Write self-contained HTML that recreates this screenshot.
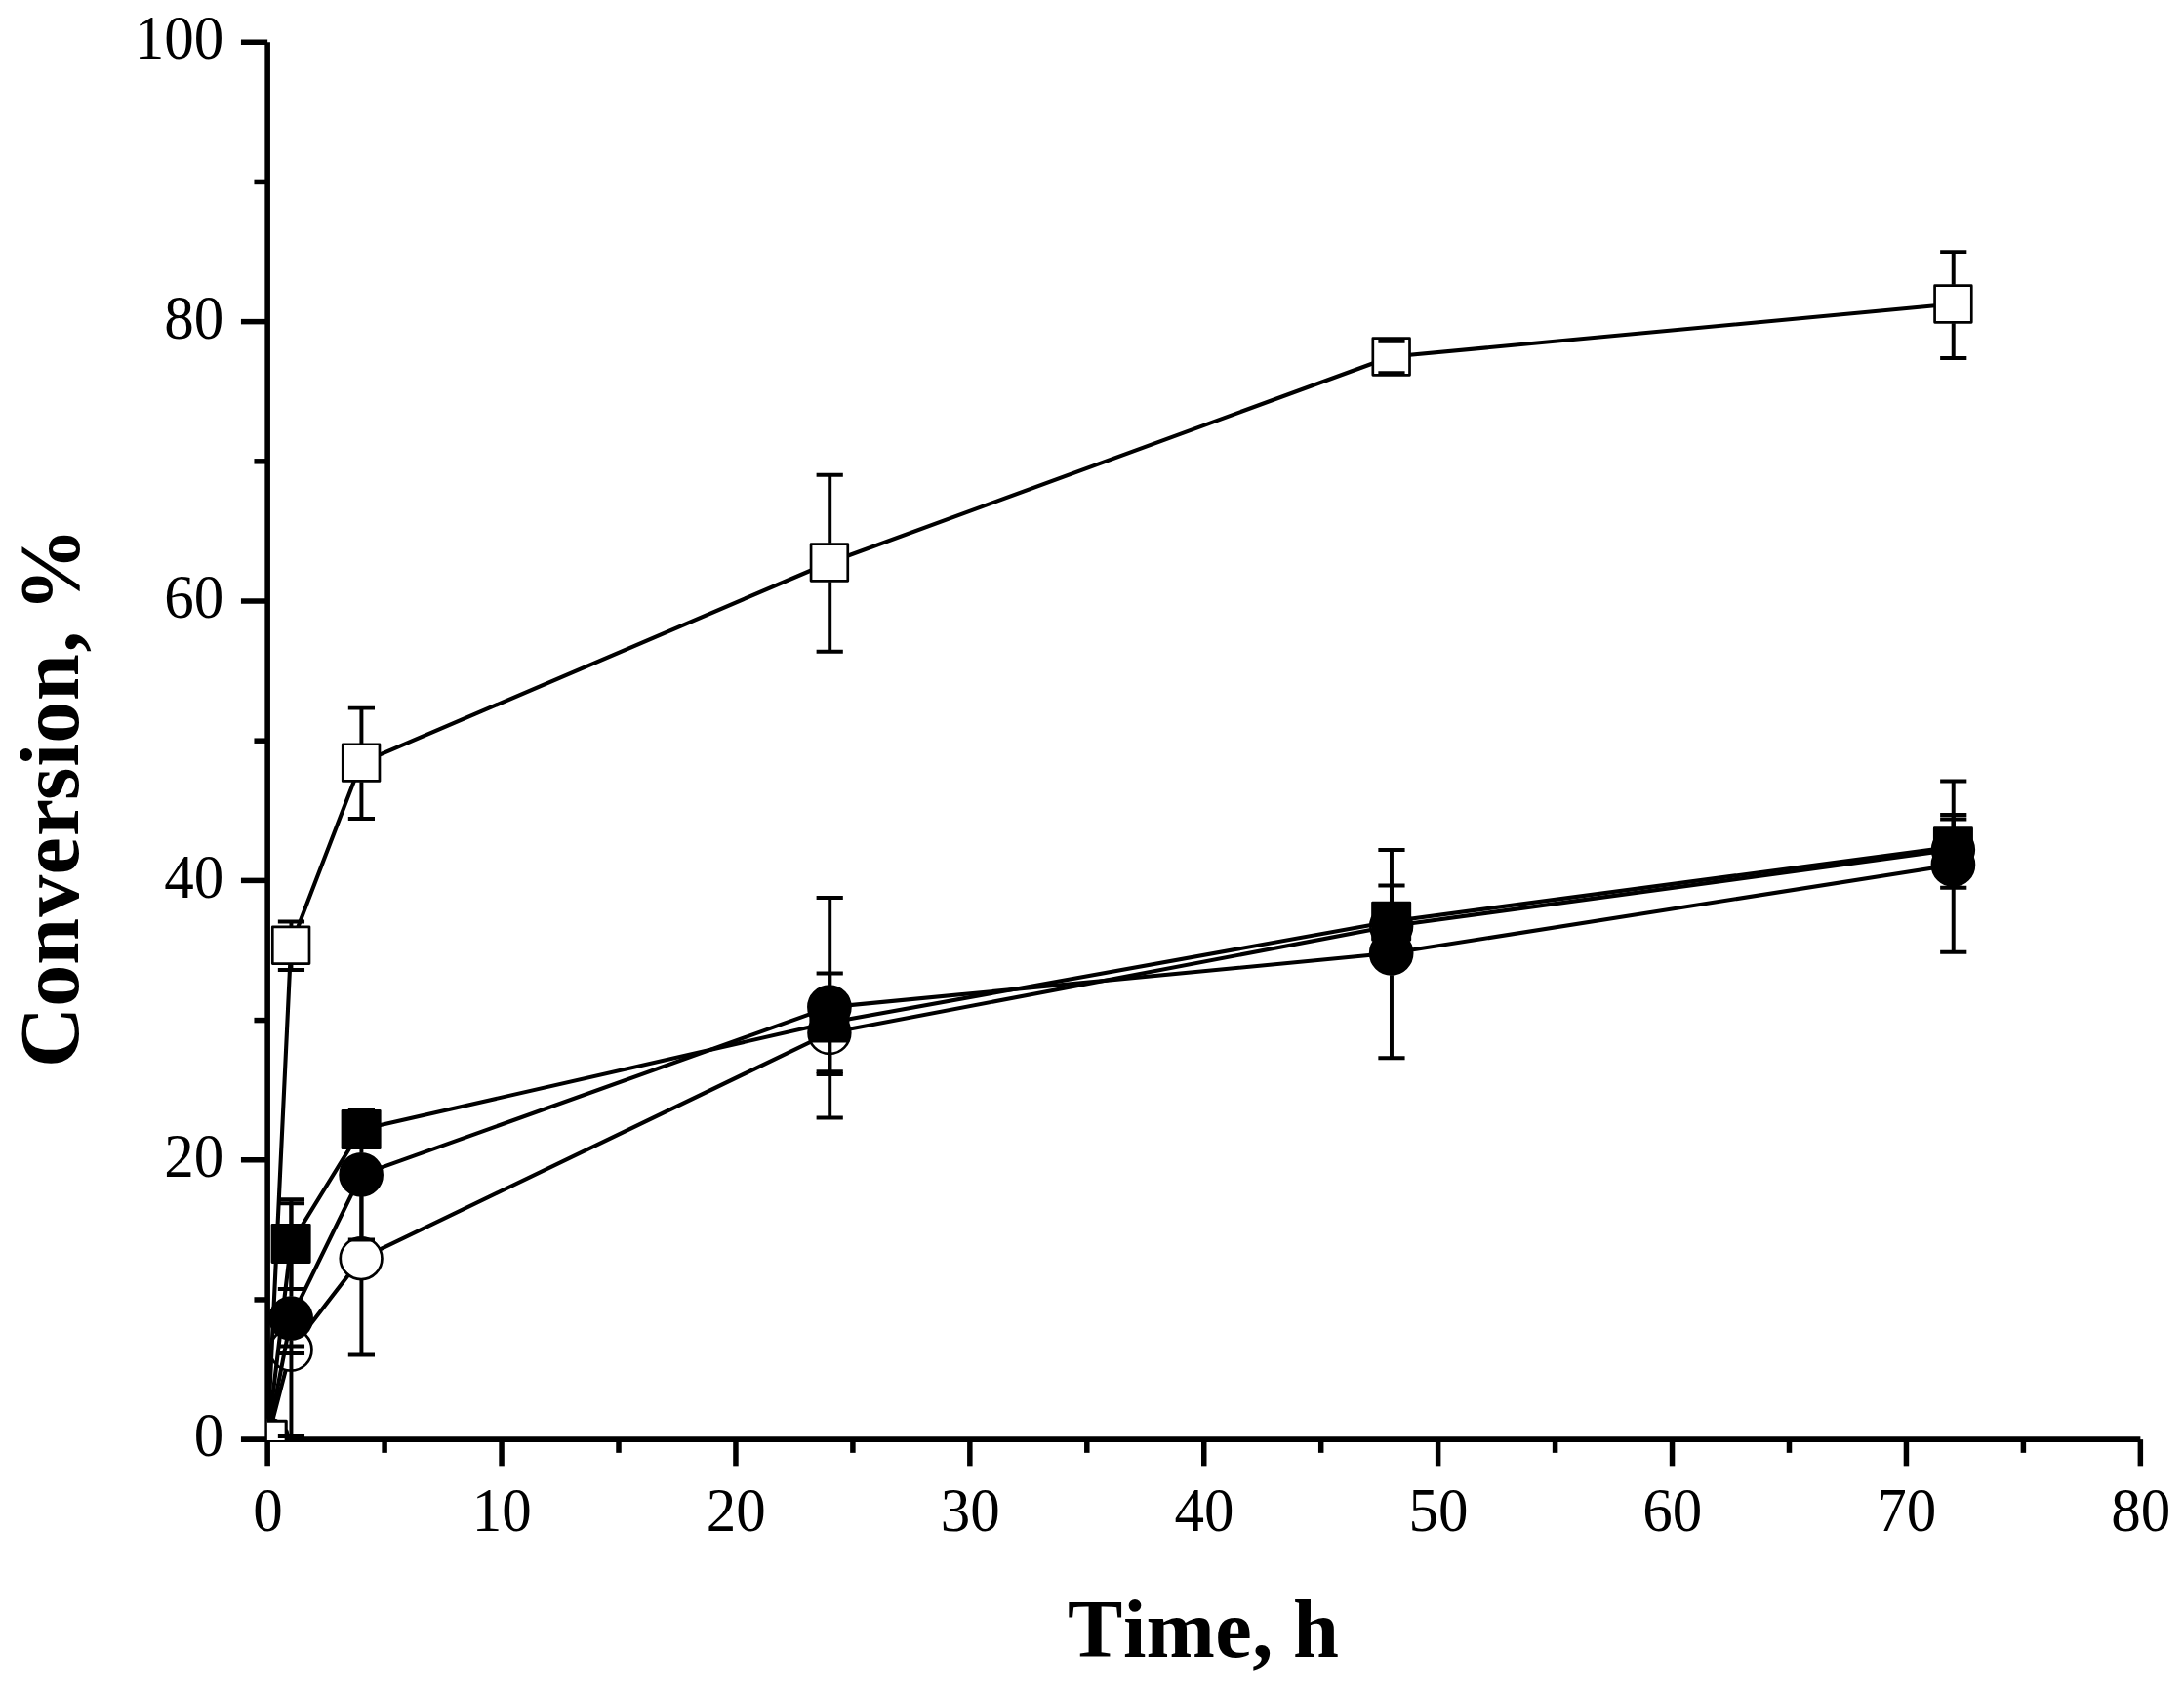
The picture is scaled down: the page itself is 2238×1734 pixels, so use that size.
<!DOCTYPE html>
<html lang="en"><head><meta charset="utf-8">
<style>html,body{margin:0;padding:0;background:#fff;}body{width:2238px;height:1734px;overflow:hidden;}svg{display:block;}text{font-family:"Liberation Serif",serif;fill:#000;}.tk{font-size:61px;}.ti{font-size:84px;font-weight:bold;}</style></head><body>
<svg width="2238" height="1734" viewBox="0 0 2238 1734">
<rect width="2238" height="1734" fill="#fff"/>
<defs><clipPath id="plot"><rect x="273.90" y="0" width="1963.85" height="1476.05"/></clipPath></defs>
<g stroke="#000" fill="none" stroke-linecap="butt">
<line x1="274.15" y1="43.25" x2="274.15" y2="1502.35" stroke-width="5.6"/>
<line x1="246.95" y1="1475.15" x2="2193.35" y2="1475.15" stroke-width="5.6"/>
<line x1="260.45" y1="1331.96" x2="274.15" y2="1331.96" stroke-width="5.5"/>
<line x1="246.95" y1="1188.77" x2="274.15" y2="1188.77" stroke-width="5.5"/>
<line x1="260.45" y1="1045.58" x2="274.15" y2="1045.58" stroke-width="5.5"/>
<line x1="246.95" y1="902.39" x2="274.15" y2="902.39" stroke-width="5.5"/>
<line x1="260.45" y1="759.20" x2="274.15" y2="759.20" stroke-width="5.5"/>
<line x1="246.95" y1="616.01" x2="274.15" y2="616.01" stroke-width="5.5"/>
<line x1="260.45" y1="472.82" x2="274.15" y2="472.82" stroke-width="5.5"/>
<line x1="246.95" y1="329.63" x2="274.15" y2="329.63" stroke-width="5.5"/>
<line x1="260.45" y1="186.44" x2="274.15" y2="186.44" stroke-width="5.5"/>
<line x1="246.95" y1="43.25" x2="274.15" y2="43.25" stroke-width="5.5"/>
<line x1="394.10" y1="1475.15" x2="394.10" y2="1488.85" stroke-width="5.5"/>
<line x1="514.05" y1="1475.15" x2="514.05" y2="1502.35" stroke-width="5.5"/>
<line x1="634.00" y1="1475.15" x2="634.00" y2="1488.85" stroke-width="5.5"/>
<line x1="753.95" y1="1475.15" x2="753.95" y2="1502.35" stroke-width="5.5"/>
<line x1="873.90" y1="1475.15" x2="873.90" y2="1488.85" stroke-width="5.5"/>
<line x1="993.85" y1="1475.15" x2="993.85" y2="1502.35" stroke-width="5.5"/>
<line x1="1113.80" y1="1475.15" x2="1113.80" y2="1488.85" stroke-width="5.5"/>
<line x1="1233.75" y1="1475.15" x2="1233.75" y2="1502.35" stroke-width="5.5"/>
<line x1="1353.70" y1="1475.15" x2="1353.70" y2="1488.85" stroke-width="5.5"/>
<line x1="1473.65" y1="1475.15" x2="1473.65" y2="1502.35" stroke-width="5.5"/>
<line x1="1593.60" y1="1475.15" x2="1593.60" y2="1488.85" stroke-width="5.5"/>
<line x1="1713.55" y1="1475.15" x2="1713.55" y2="1502.35" stroke-width="5.5"/>
<line x1="1833.50" y1="1475.15" x2="1833.50" y2="1488.85" stroke-width="5.5"/>
<line x1="1953.45" y1="1475.15" x2="1953.45" y2="1502.35" stroke-width="5.5"/>
<line x1="2073.40" y1="1475.15" x2="2073.40" y2="1488.85" stroke-width="5.5"/>
<line x1="2193.35" y1="1475.15" x2="2193.35" y2="1502.35" stroke-width="5.5"/>
</g>
<g class="tk">
<text transform="translate(229.30,1492.35) scale(1,1.04)" text-anchor="end">0</text>
<text transform="translate(229.30,1205.97) scale(1,1.04)" text-anchor="end">20</text>
<text transform="translate(229.30,919.59) scale(1,1.04)" text-anchor="end">40</text>
<text transform="translate(229.30,633.21) scale(1,1.04)" text-anchor="end">60</text>
<text transform="translate(229.30,346.83) scale(1,1.04)" text-anchor="end">80</text>
<text transform="translate(229.30,60.45) scale(1,1.04)" text-anchor="end">100</text>
<text transform="translate(274.45,1568.60) scale(1,1.04)" text-anchor="middle">0</text>
<text transform="translate(514.35,1568.60) scale(1,1.04)" text-anchor="middle">10</text>
<text transform="translate(754.25,1568.60) scale(1,1.04)" text-anchor="middle">20</text>
<text transform="translate(994.15,1568.60) scale(1,1.04)" text-anchor="middle">30</text>
<text transform="translate(1234.05,1568.60) scale(1,1.04)" text-anchor="middle">40</text>
<text transform="translate(1473.95,1568.60) scale(1,1.04)" text-anchor="middle">50</text>
<text transform="translate(1713.85,1568.60) scale(1,1.04)" text-anchor="middle">60</text>
<text transform="translate(1953.75,1568.60) scale(1,1.04)" text-anchor="middle">70</text>
<text transform="translate(2193.65,1568.60) scale(1,1.04)" text-anchor="middle">80</text>
</g>
<text class="ti" style="font-size:84.5px" x="1094.0 1151.0 1174.4 1245.3 1283.2 1305.0 1325.1" y="1698.1">Time, h</text>
<text class="ti" style="font-size:86px" transform="translate(79.5,1091.7) rotate(-90)" x="-2.4 60.0 102.9 151.9 195.3 234.7 271.6 306.0 330.0 373.8 423.3 445.0 465.0" y="0">Conversion, %</text>
<g clip-path="url(#plot)">
<polyline points="274.15,1475.15 298.14,1383.30 370.11,1289.70 849.91,1058.50 1425.67,949.00 2001.43,870.80" fill="none" stroke="#000" stroke-width="4.1" stroke-linejoin="round"/>
<circle cx="274.15" cy="1475.15" r="21.35" fill="#fff" stroke="#000" stroke-width="2.7"/>
<circle cx="298.14" cy="1383.30" r="21.35" fill="#fff" stroke="#000" stroke-width="2.7"/>
<circle cx="370.11" cy="1289.70" r="21.35" fill="#fff" stroke="#000" stroke-width="2.7"/>
<circle cx="849.91" cy="1058.50" r="21.35" fill="#fff" stroke="#000" stroke-width="2.7"/>
<circle cx="1425.67" cy="949.00" r="21.35" fill="#fff" stroke="#000" stroke-width="2.7"/>
<circle cx="2001.43" cy="870.80" r="21.35" fill="#fff" stroke="#000" stroke-width="2.7"/>
<polyline points="274.15,1475.15 298.14,1351.10 370.11,1203.90 849.91,1032.10 1425.67,976.80 2001.43,886.20" fill="none" stroke="#000" stroke-width="4.1" stroke-linejoin="round"/>
<circle cx="274.15" cy="1475.15" r="21.50" fill="#000" stroke="#000" stroke-width="2.7"/>
<circle cx="298.14" cy="1351.10" r="21.50" fill="#000" stroke="#000" stroke-width="2.7"/>
<circle cx="370.11" cy="1203.90" r="21.50" fill="#000" stroke="#000" stroke-width="2.7"/>
<circle cx="849.91" cy="1032.10" r="21.50" fill="#000" stroke="#000" stroke-width="2.7"/>
<circle cx="1425.67" cy="976.80" r="21.50" fill="#000" stroke="#000" stroke-width="2.7"/>
<circle cx="2001.43" cy="886.20" r="21.50" fill="#000" stroke="#000" stroke-width="2.7"/>
<polyline points="274.15,1475.15 298.14,1274.40 370.11,1157.50 849.91,1047.90 1425.67,944.20 2001.43,867.80" fill="none" stroke="#000" stroke-width="4.1" stroke-linejoin="round"/>
<rect x="255.00" y="1456.00" width="38.30" height="38.30" fill="#000" stroke="#000" stroke-width="2.7" stroke-linejoin="round"/>
<rect x="278.99" y="1255.25" width="38.30" height="38.30" fill="#000" stroke="#000" stroke-width="2.7" stroke-linejoin="round"/>
<rect x="350.96" y="1138.35" width="38.30" height="38.30" fill="#000" stroke="#000" stroke-width="2.7" stroke-linejoin="round"/>
<rect x="830.76" y="1028.75" width="38.30" height="38.30" fill="#000" stroke="#000" stroke-width="2.7" stroke-linejoin="round"/>
<rect x="1406.52" y="925.05" width="38.30" height="38.30" fill="#000" stroke="#000" stroke-width="2.7" stroke-linejoin="round"/>
<rect x="1982.28" y="848.65" width="38.30" height="38.30" fill="#000" stroke="#000" stroke-width="2.7" stroke-linejoin="round"/>
<polyline points="274.15,1475.15 298.14,968.70 370.11,781.60 849.91,576.50 1425.67,365.50 2001.43,311.50" fill="none" stroke="#000" stroke-width="4.1" stroke-linejoin="round"/>
<rect x="255.30" y="1456.30" width="37.70" height="37.70" fill="#fff" stroke="#000" stroke-width="2.7" stroke-linejoin="round"/>
<rect x="279.29" y="949.85" width="37.70" height="37.70" fill="#fff" stroke="#000" stroke-width="2.7" stroke-linejoin="round"/>
<rect x="351.26" y="762.75" width="37.70" height="37.70" fill="#fff" stroke="#000" stroke-width="2.7" stroke-linejoin="round"/>
<rect x="831.06" y="557.65" width="37.70" height="37.70" fill="#fff" stroke="#000" stroke-width="2.7" stroke-linejoin="round"/>
<rect x="1406.82" y="346.65" width="37.70" height="37.70" fill="#fff" stroke="#000" stroke-width="2.7" stroke-linejoin="round"/>
<rect x="1982.58" y="292.65" width="37.70" height="37.70" fill="#fff" stroke="#000" stroke-width="2.7" stroke-linejoin="round"/>
<g stroke="#000" stroke-width="3.95" fill="none">
<path d="M284.84 1379.50H312.04M284.84 1387.00H312.04"/>
<path d="M370.41 1267.50V1191.00M370.41 1311.90V1388.40M356.81 1191.00H384.01M356.81 1388.40H384.01"/>
<path d="M850.21 1036.30V1016.90M850.21 1080.70V1100.90M836.61 1016.90H863.81M836.61 1100.90H863.81"/>
<path d="M2001.73 848.60V835.00M2001.73 893.00V909.80M1988.13 835.00H2015.33M1988.13 909.80H2015.33"/>
<path d="M298.44 1328.75V1233.30M298.44 1373.45V1472.00M284.84 1233.30H312.04M284.84 1472.00H312.04"/>
<path d="M370.41 1181.55V1137.80M370.41 1226.25V1270.40M356.81 1137.80H384.01M356.81 1270.40H384.01"/>
<path d="M850.21 1009.75V919.90M850.21 1054.45V1145.40M836.61 919.90H863.81M836.61 1145.40H863.81"/>
<path d="M1425.97 954.45V871.00M1425.97 999.15V1084.30M1412.37 871.00H1439.57M1412.37 1084.30H1439.57"/>
<path d="M2001.73 863.85V800.40M2001.73 908.55V975.70M1988.13 800.40H2015.33M1988.13 975.70H2015.33"/>
<path d="M298.44 1254.40V1229.20M298.44 1294.40V1320.90M284.84 1229.20H312.04M284.84 1320.90H312.04"/>
<path d="M850.21 1027.90V997.40M850.21 1067.90V1098.20M836.61 997.40H863.81M836.61 1098.20H863.81"/>
<path d="M1425.97 924.20V907.40M1425.97 964.20V979.20M1412.37 907.40H1439.57M1412.37 979.20H1439.57"/>
<path d="M2001.73 847.80V839.40M2001.73 887.80V896.20M1988.13 839.40H2015.33M1988.13 896.20H2015.33"/>
<path d="M298.44 949.00V944.40M298.44 988.40V994.00M284.84 944.40H312.04M284.84 994.00H312.04"/>
<path d="M370.41 761.90V725.60M370.41 801.30V839.00M356.81 725.60H384.01M356.81 839.00H384.01"/>
<path d="M850.21 556.80V486.70M850.21 596.20V667.80M836.61 486.70H863.81M836.61 667.80H863.81"/>
<path d="M1412.37 349.75H1439.57M1412.37 382.20H1439.57"/>
<path d="M2001.73 291.80V258.10M2001.73 331.20V367.00M1988.13 258.10H2015.33M1988.13 367.00H2015.33"/>
</g>
</g>
</svg></body></html>
